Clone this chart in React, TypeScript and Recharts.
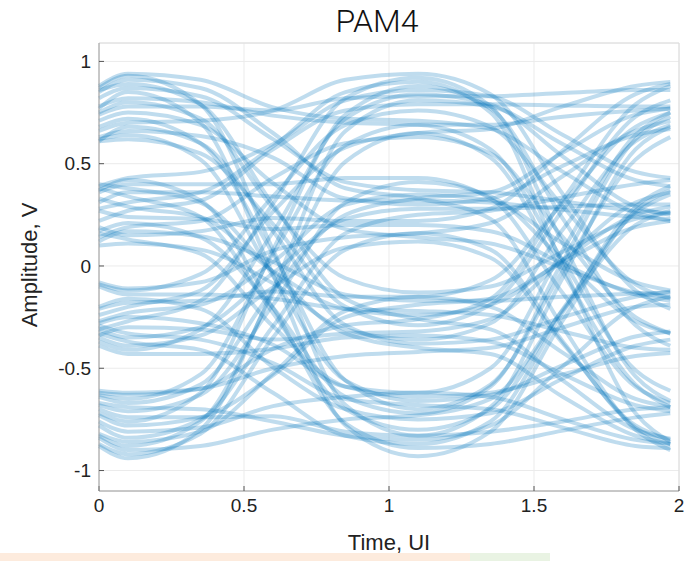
import { LineChart, Line, XAxis, YAxis, CartesianGrid, ReferenceLine } from 'recharts'

const TIME_UI = [0, 0.1, 0.35, 0.6, 0.85, 1.1, 1.35, 1.6, 1.85, 1.97]

// traces starting on the top level (~+0.78 V)
const TRACES_L3 = [
  [0.87, 0.93, 0.79, 0.08, -0.68, -0.83, -0.81, -0.76, -0.7, -0.69],
  [0.62, 0.64, 0.52, -0.05, -0.56, -0.66, -0.63, -0.485, -0.345, -0.32],
  [0.77, 0.85, 0.7, -0.04, -0.78, -0.93, -0.81, -0.265, 0.27, 0.37],
  [0.68, 0.72, 0.6, 0.06, -0.56, -0.7, -0.58, -0.02, 0.52, 0.63],
  [0.86, 0.89, 0.79, 0.3, -0.16, -0.26, -0.31, -0.56, -0.8, -0.845],
  [0.61, 0.68, 0.6, 0.17, -0.29, -0.38, -0.36, -0.25, -0.15, -0.125],
  [0.75, 0.8, 0.72, 0.285, -0.06, -0.13, -0.1, 0.07, 0.23, 0.26],
  [0.61, 0.62, 0.55, 0.205, -0.2, -0.29, -0.19, 0.275, 0.73, 0.81],
  [0.85, 0.91, 0.87, 0.65, 0.38, 0.33, 0.23, -0.3, -0.8, -0.9],
  [0.71, 0.75, 0.69, 0.405, 0.18, 0.14, 0.11, -0.01, -0.13, -0.15],
  [0.82, 0.87, 0.83, 0.62, 0.41, 0.37, 0.36, 0.315, 0.27, 0.26],
  [0.63, 0.66, 0.635, 0.53, 0.33, 0.3, 0.33, 0.49, 0.64, 0.67],
  [0.78, 0.82, 0.8, 0.735, 0.7, 0.69, 0.57, 0.025, -0.51, -0.61],
  [0.66, 0.7, 0.71, 0.76, 0.91, 0.94, 0.84, 0.35, -0.12, -0.21],
  [0.88, 0.94, 0.91, 0.775, 0.72, 0.71, 0.67, 0.46, 0.26, 0.22],
  [0.74, 0.78, 0.78, 0.76, 0.82, 0.83, 0.83, 0.845, 0.86, 0.86],
]

// traces starting on the upper inner level (~+0.27 V)
const TRACES_L2 = [
  [0.37, 0.42, 0.32, -0.205, -0.77, -0.89, -0.87, -0.805, -0.74, -0.72],
  [0.16, 0.13, 0.06, -0.295, -0.59, -0.64, -0.62, -0.53, -0.44, -0.425],
  [0.38, 0.34, 0.24, -0.23, -0.7, -0.8, -0.7, -0.21, 0.26, 0.35],
  [0.17, 0.21, 0.14, -0.205, -0.64, -0.72, -0.59, 0.025, 0.62, 0.73],
  [0.4, 0.38, 0.31, -0.03, -0.33, -0.4, -0.43, -0.64, -0.83, -0.87],
  [0.12, 0.17, 0.145, 0.02, -0.14, -0.17, -0.17, -0.15, -0.135, -0.13],
  [0.33, 0.29, 0.24, -0.025, -0.21, -0.24, -0.19, 0.03, 0.25, 0.29],
  [0.1, 0.11, 0.08, -0.085, -0.31, -0.36, -0.28, 0.18, 0.61, 0.69],
  [0.36, 0.4, 0.4, 0.4, 0.43, 0.43, 0.33, -0.135, -0.59, -0.67],
  [0.27, 0.24, 0.23, 0.18, 0.2, 0.2, 0.17, 0.01, -0.14, -0.17],
  [0.31, 0.36, 0.36, 0.34, 0.32, 0.32, 0.31, 0.275, 0.24, 0.23],
  [0.19, 0.15, 0.17, 0.235, 0.22, 0.22, 0.28, 0.565, 0.84, 0.89],
  [0.28, 0.31, 0.36, 0.585, 0.85, 0.9, 0.75, 0.0, -0.72, -0.86],
  [0.14, 0.19, 0.22, 0.43, 0.6, 0.63, 0.55, 0.14, -0.25, -0.33],
  [0.39, 0.43, 0.46, 0.595, 0.81, 0.86, 0.83, 0.64, 0.46, 0.43],
  [0.22, 0.27, 0.32, 0.57, 0.76, 0.79, 0.79, 0.785, 0.78, 0.78],
]

// traces starting on the lower inner level (~-0.27 V)
const TRACES_L1 = [
  [-0.29, -0.33, -0.36, -0.475, -0.65, -0.68, -0.7, -0.79, -0.88, -0.89],
  [-0.2, -0.16, -0.21, -0.495, -0.7, -0.75, -0.72, -0.55, -0.39, -0.36],
  [-0.33, -0.37, -0.41, -0.62, -0.83, -0.87, -0.76, -0.225, 0.29, 0.39],
  [-0.28, -0.25, -0.28, -0.385, -0.59, -0.62, -0.5, 0.08, 0.64, 0.75],
  [-0.39, -0.43, -0.43, -0.405, -0.35, -0.34, -0.37, -0.53, -0.68, -0.71],
  [-0.1, -0.14, -0.14, -0.16, -0.21, -0.22, -0.24, -0.32, -0.4, -0.41],
  [-0.34, -0.3, -0.31, -0.36, -0.33, -0.32, -0.26, 0.03, 0.31, 0.36],
  [-0.21, -0.18, -0.17, -0.125, -0.15, -0.15, -0.07, 0.31, 0.68, 0.75],
  [-0.35, -0.39, -0.34, -0.105, 0.09, 0.12, 0.04, -0.38, -0.78, -0.85],
  [-0.27, -0.23, -0.19, 0.02, 0.3, 0.35, 0.32, 0.11, -0.08, -0.12],
  [-0.31, -0.35, -0.3, -0.035, 0.23, 0.28, 0.28, 0.29, 0.3, 0.3],
  [-0.08, -0.11, -0.08, 0.075, 0.14, 0.16, 0.21, 0.44, 0.66, 0.71],
  [-0.31, -0.27, -0.17, 0.305, 0.82, 0.92, 0.78, 0.11, -0.54, -0.66],
  [-0.09, -0.12, -0.04, 0.34, 0.69, 0.76, 0.68, 0.29, -0.09, -0.16],
  [-0.37, -0.41, -0.31, 0.165, 0.72, 0.84, 0.79, 0.535, 0.29, 0.25],
  [-0.24, -0.2, -0.12, 0.265, 0.58, 0.65, 0.67, 0.78, 0.88, 0.9],
]

// traces starting on the bottom level (~-0.78 V)
const TRACES_L0 = [
  [-0.76, -0.81, -0.79, -0.685, -0.64, -0.62, -0.64, -0.75, -0.85, -0.87],
  [-0.67, -0.69, -0.7, -0.76, -0.83, -0.85, -0.78, -0.49, -0.2, -0.15],
  [-0.84, -0.9, -0.88, -0.8, -0.75, -0.73, -0.65, -0.215, 0.2, 0.27],
  [-0.7, -0.74, -0.74, -0.735, -0.81, -0.83, -0.69, -0.055, 0.57, 0.68],
  [-0.82, -0.86, -0.81, -0.525, -0.22, -0.15, -0.2, -0.425, -0.65, -0.69],
  [-0.61, -0.62, -0.6, -0.5, -0.44, -0.42, -0.4, -0.3, -0.2, -0.19],
  [-0.73, -0.78, -0.74, -0.535, -0.25, -0.19, -0.16, 0.02, 0.19, 0.22],
  [-0.62, -0.63, -0.6, -0.405, -0.29, -0.26, -0.16, 0.325, 0.79, 0.88],
  [-0.87, -0.92, -0.82, -0.35, 0.08, 0.16, 0.08, -0.37, -0.79, -0.87],
  [-0.68, -0.71, -0.63, -0.19, 0.31, 0.41, 0.34, 0.03, -0.27, -0.33],
  [-0.78, -0.84, -0.75, -0.295, 0.16, 0.25, 0.27, 0.335, 0.4, 0.42],
  [-0.64, -0.67, -0.58, -0.12, 0.25, 0.33, 0.36, 0.555, 0.74, 0.77],
  [-0.83, -0.88, -0.76, -0.135, 0.51, 0.65, 0.53, -0.035, -0.58, -0.69],
  [-0.72, -0.76, -0.62, 0.08, 0.74, 0.88, 0.77, 0.23, -0.29, -0.39],
  [-0.88, -0.94, -0.8, -0.115, 0.66, 0.81, 0.78, 0.595, 0.42, 0.39],
  [-0.63, -0.65, -0.53, 0.06, 0.59, 0.69, 0.69, 0.73, 0.76, 0.77],
]

const X_TICKS = [0, 0.5, 1, 1.5, 2]
const Y_TICKS = [-1, -0.5, 0, 0.5, 1]

const ALL_TRACES = [...TRACES_L3, ...TRACES_L2, ...TRACES_L1, ...TRACES_L0]

const chartData = TIME_UI.map((t, k) => {
  const row: Record<string, number> = { t }
  ALL_TRACES.forEach((tr, i) => {
    row[`tr${i}`] = tr[k]
  })
  return row
})

const FONT = '"Liberation Sans", Arial, Helvetica, sans-serif'

export default function App() {
  return (
    <div
      style={{
        position: 'absolute',
        left: 0,
        top: 0,
        width: 692,
        height: 561,
        background: '#fff',
        fontFamily: FONT,
      }}
    >
      <div
        style={{
          position: 'absolute',
          left: 0,
          top: 553,
          width: 470,
          height: 8,
          background: '#fdebdd',
        }}
      />
      <div
        style={{
          position: 'absolute',
          left: 470,
          top: 553,
          width: 80,
          height: 8,
          background: '#e9f3e3',
        }}
      />

      <LineChart
        width={692}
        height={561}
        data={chartData}
        margin={{ top: 43, right: 13, bottom: 40, left: 0 }}
      >
        <CartesianGrid stroke="#ebebeb" strokeWidth={1} />
        <XAxis
          dataKey="t"
          type="number"
          domain={[0, 2]}
          ticks={X_TICKS}
          height={30}
          stroke="#9a9a9a"
          tickSize={-5}
          tickMargin={13}
          tick={{ fontSize: 19, fill: '#222', fontFamily: FONT }}
          tickLine={{ stroke: '#555' }}
        />
        <YAxis
          type="number"
          domain={[-1.1, 1.09]}
          ticks={Y_TICKS}
          width={99}
          allowDataOverflow
          stroke="#9a9a9a"
          tickSize={-5}
          tickMargin={13}
          tick={{ fontSize: 19, fill: '#222', fontFamily: FONT }}
          tickLine={{ stroke: '#555' }}
        />
        <ReferenceLine x={2} stroke="#dcdcdc" />
        <ReferenceLine y={1.09} stroke="#dcdcdc" />
        {ALL_TRACES.map((_, i) => (
          <Line
            key={`tr${i}`}
            dataKey={`tr${i}`}
            type="monotone"
            stroke="#0072BD"
            strokeOpacity={0.25}
            strokeWidth={4}
            dot={false}
            activeDot={false}
            isAnimationActive={false}
          />
        ))}
      </LineChart>

      <div
        style={{
          position: 'absolute',
          left: 277,
          width: 200,
          top: 2,
          textAlign: 'center',
          fontFamily: 'Roboto, sans-serif',
          fontWeight: 300,
          fontSize: 32,
          color: '#111',
        }}
      >
        PAM4
      </div>
      <div
        style={{
          position: 'absolute',
          left: 289,
          width: 200,
          top: 530,
          textAlign: 'center',
          fontSize: 22,
          color: '#222',
        }}
      >
        Time, UI
      </div>
      <div
        style={{
          position: 'absolute',
          left: 30,
          top: 265,
          transform: 'translate(-50%, -50%) rotate(-90deg)',
          whiteSpace: 'nowrap',
          fontSize: 22,
          color: '#222',
        }}
      >
        Amplitude, V
      </div>
    </div>
  )
}
